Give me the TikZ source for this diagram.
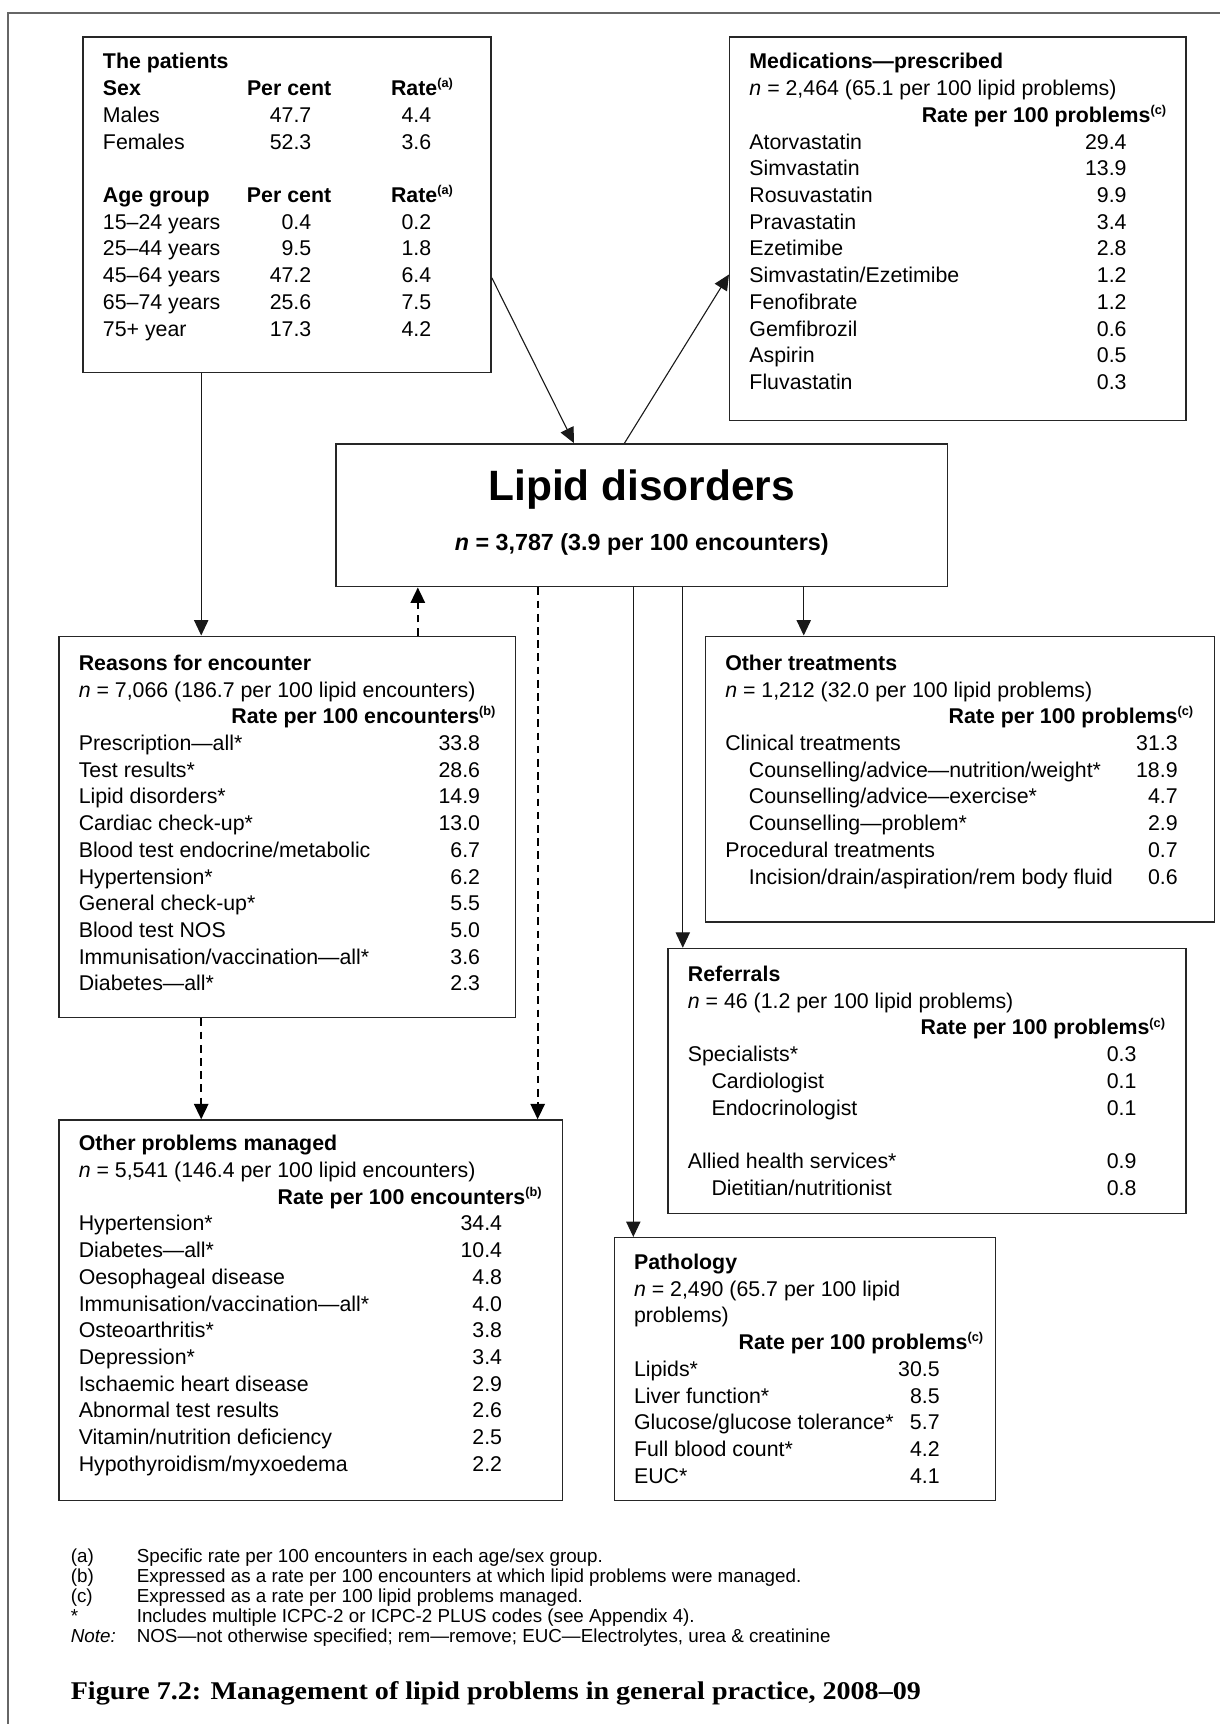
\documentclass[tikz,border=0pt]{standalone}
\usepackage{fontspec}
\usepackage{array}
\setmainfont{Liberation Sans}
\newfontfamily\capfont[FakeStretch=1.1]{Liberation Serif}
\usetikzlibrary{arrows.meta}
\newcommand{\boxfont}{\fontsize{9.7}{12.15}\selectfont}
\newcommand{\sups}[1]{\raisebox{3.6pt}{\fontsize{5.8}{6}\selectfont(#1)}}
\newcommand{\ttl}[1]{\multicolumn{2}{@{}l@{}}{\rlap{#1}}}
\newcommand{\rhead}[3]{\multicolumn{2}{@{}r@{\hspace{-#1}}}{\bfseries #2\sups{#3}}}
\newcommand{\ind}{\hspace*{10.75pt}}
\newcommand{\cell}[2]{\makebox[#1][r]{#2}}
\newcommand{\boxtext}[4]{\begin{minipage}[t][#2][t]{#1}\vspace*{#3}\boxfont #4\end{minipage}}
\tikzset{%
	panel/.style={draw=black!85, line width=0.65pt, rectangle, inner xsep=9pt, inner ysep=0pt, anchor=north west},
	lipidbox/.style={panel, minimum width=278pt, minimum height=65pt, inner sep=0pt},
	flow/.style={-{Triangle[width=6.5pt,length=7pt]}, draw=black!90, line width=0.5pt},
	dflow/.style={flow, draw=black, line width=0.85pt, dash pattern=on 3.5pt off 2.5pt},
	frame/.style={draw=black!60, line width=0.7pt},
	notes/.style={anchor=north west, inner sep=0pt, font=\fontsize{8.55}{9.1}\selectfont}
}
\begin{document}
\begin{tikzpicture}[x=0.5pt, y=-0.5pt]
	\useasboundingbox (0,0) rectangle (1109.6,1568);
	\draw[frame] (7.5,1568) -- (7.5,12) -- (1109.6,12);

	\node[panel] (pat) at (75,33) {\boxtext{167.5pt}{152.5pt}{6pt}{%
		\begin{tabular}{@{}p{65.5pt}@{}p{65.5pt}@{}l@{}}
			\textbf{The patients} & & \\
			\textbf{Sex} & \textbf{Per cent} & \textbf{Rate\sups{a}} \\
			Males & \cell{29.25pt}{47.7} & \cell{18.3pt}{4.4} \\
			Females & \cell{29.25pt}{52.3} & \cell{18.3pt}{3.6} \\
			& & \\
			\textbf{Age group} & \textbf{Per cent} & \textbf{Rate\sups{a}} \\
			15--24 years & \cell{29.25pt}{0.4} & \cell{18.3pt}{0.2} \\
			25--44 years & \cell{29.25pt}{9.5} & \cell{18.3pt}{1.8} \\
			45--64 years & \cell{29.25pt}{47.2} & \cell{18.3pt}{6.4} \\
			65--74 years & \cell{29.25pt}{25.6} & \cell{18.3pt}{7.5} \\
			75+ year & \cell{29.25pt}{17.3} & \cell{18.3pt}{4.2} \\
		\end{tabular}}};

	\node[panel] (med) at (663,33) {\boxtext{189.5pt}{174.5pt}{6pt}{%
		\begin{tabular*}{171.5pt}{@{\extracolsep{\fill}}l@{}r@{}}
			\ttl{\textbf{Medications---prescribed}} \\
			\ttl{\textit{n} = 2,464 (65.1 per 100 lipid problems)} \\
			\rhead{18pt}{Rate per 100 problems}{c} \\
			Atorvastatin & 29.4 \\
			Simvastatin & 13.9 \\
			Rosuvastatin & 9.9 \\
			Pravastatin & 3.4 \\
			Ezetimibe & 2.8 \\
			Simvastatin/Ezetimibe & 1.2 \\
			Fenofibrate & 1.2 \\
			Gemfibrozil & 0.6 \\
			Aspirin & 0.5 \\
			Fluvastatin & 0.3 \\
		\end{tabular*}}};

	\node[lipidbox] (lipid) at (305,403) {\fontsize{19.3}{23}\selectfont
		\begin{tabular}{@{}c@{}}
			\bfseries Lipid disorders \\
			\fontsize{10.6}{12}\selectfont\bfseries \textit{n} = 3,787 (3.9 per 100 encounters) \\
		\end{tabular}};

	\node[panel] (reas) at (53,578) {\boxtext{189.5pt}{173.5pt}{7pt}{%
		\begin{tabular*}{182.5pt}{@{\extracolsep{\fill}}l@{}r@{}}
			\ttl{\textbf{Reasons for encounter}} \\
			\ttl{\textit{n} = 7,066 (186.7 per 100 lipid encounters)} \\
			\rhead{7pt}{Rate per 100 encounters}{b} \\
			Prescription---all* & 33.8 \\
			Test results* & 28.6 \\
			Lipid disorders* & 14.9 \\
			Cardiac check-up* & 13.0 \\
			Blood test endocrine/metabolic & 6.7 \\
			Hypertension* & 6.2 \\
			General check-up* & 5.5 \\
			Blood test NOS & 5.0 \\
			Immunisation/vaccination---all* & 3.6 \\
			Diabetes---all* & 2.3 \\
		\end{tabular*}}};

	\node[panel] (ot) at (641,578) {\boxtext{213.5pt}{130pt}{7pt}{%
		\begin{tabular*}{205.75pt}{@{\extracolsep{\fill}}l@{}r@{}}
			\ttl{\textbf{Other treatments}} \\
			\ttl{\textit{n} = 1,212 (32.0 per 100 lipid problems)} \\
			\rhead{7pt}{Rate per 100 problems}{c} \\
			Clinical treatments & 31.3 \\
			\ind Counselling/advice---nutrition/weight* & 18.9 \\
			\ind Counselling/advice---exercise* & 4.7 \\
			\ind Counselling---problem* & 2.9 \\
			Procedural treatments & 0.7 \\
			\ind Incision/drain/aspiration/rem body fluid & 0.6 \\
		\end{tabular*}}};

	\node[panel] (ref) at (607,862) {\boxtext{217.5pt}{120.5pt}{6.5pt}{%
		\begin{tabular*}{204pt}{@{\extracolsep{\fill}}l@{}r@{}}
			\ttl{\textbf{Referrals}} \\
			\ttl{\textit{n} = 46 (1.2 per 100 lipid problems)} \\
			\rhead{13pt}{Rate per 100 problems}{c} \\
			Specialists* & 0.3 \\
			\ind Cardiologist & 0.1 \\
			\ind Endocrinologist & 0.1 \\
			& \\
			Allied health services* & 0.9 \\
			\ind Dietitian/nutritionist & 0.8 \\
		\end{tabular*}}};

	\node[panel] (oth) at (53,1018) {\boxtext{211pt}{173pt}{5.5pt}{%
		\begin{tabular*}{192.5pt}{@{\extracolsep{\fill}}l@{}r@{}}
			\ttl{\textbf{Other problems managed}} \\
			\ttl{\textit{n} = 5,541 (146.4 per 100 lipid encounters)} \\
			\rhead{18pt}{Rate per 100 encounters}{b} \\
			Hypertension* & 34.4 \\
			Diabetes---all* & 10.4 \\
			Oesophageal disease & 4.8 \\
			Immunisation/vaccination---all* & 4.0 \\
			Osteoarthritis* & 3.8 \\
			Depression* & 3.4 \\
			Ischaemic heart disease & 2.9 \\
			Abnormal test results & 2.6 \\
			Vitamin/nutrition deficiency & 2.5 \\
			Hypothyroidism/myxoedema & 2.2 \\
		\end{tabular*}}};

	\node[panel] (path) at (558,1125) {\boxtext{155.5pt}{119.5pt}{6pt}{%
		\begin{tabular*}{139pt}{@{\extracolsep{\fill}}l@{}r@{}}
			\ttl{\textbf{Pathology}} \\
			\ttl{\textit{n} = 2,490 (65.7 per 100 lipid} \\
			\ttl{problems)} \\
			\rhead{19.75pt}{Rate per 100 problems}{c} \\
			Lipids* & 30.5 \\
			Liver function* & 8.5 \\
			Glucose/glucose tolerance* & 5.7 \\
			Full blood count* & 4.2 \\
			EUC* & 4.1 \\
		\end{tabular*}}};

	\draw[flow] ([xshift=54pt]pat.south west) -- ([xshift=54pt]pat.south west |- reas.north);
	\draw[flow] ([yshift=-33.25pt]pat.east) -- ([xshift=108.5pt]lipid.north west);
	\draw[flow] ([xshift=131.5pt]lipid.north west) -- ([yshift=-20.75pt]med.west);
	\draw[dflow] ([xshift=163.5pt]reas.north west) -- ([xshift=163.5pt]reas.north west |- lipid.south);
	\draw[dflow] ([xshift=65pt]reas.south west) -- ([xshift=65pt]reas.south west |- oth.north);
	\draw[dflow] ([xshift=92pt]lipid.south west) -- ([xshift=92pt]lipid.south west |- oth.north);
	\draw[flow] ([xshift=135.5pt]lipid.south west) -- ([xshift=135.5pt]lipid.south west |- path.north);
	\draw[flow] ([xshift=158pt]lipid.south west) -- ([xshift=158pt]lipid.south west |- ref.north);
	\draw[flow] ([xshift=213pt]lipid.south west) -- ([xshift=213pt]lipid.south west |- ot.north);

	\node[notes] (fn) at (64,1407.5) {%
		\begin{tabular}{@{}p{30pt}@{}l@{}}
			(a) & Specific rate per 100 encounters in each age/sex group. \\
			(b) & Expressed as a rate per 100 encounters at which lipid problems were managed. \\
			(c) & Expressed as a rate per 100 lipid problems managed. \\
			{*} & Includes multiple ICPC-2 or ICPC-2 PLUS codes (see Appendix 4). \\
			\textit{Note:} & NOS---not otherwise specified; rem---remove; EUC---Electrolytes, urea \& creatinine \\
		\end{tabular}};
	\node[anchor=west, inner sep=0pt, font=\capfont\bfseries\fontsize{11.6}{14}\selectfont] (cap) at (64,1540)
		{Figure 7.2: Management of lipid problems in general practice, 2008–09};
\end{tikzpicture}
\end{document}
